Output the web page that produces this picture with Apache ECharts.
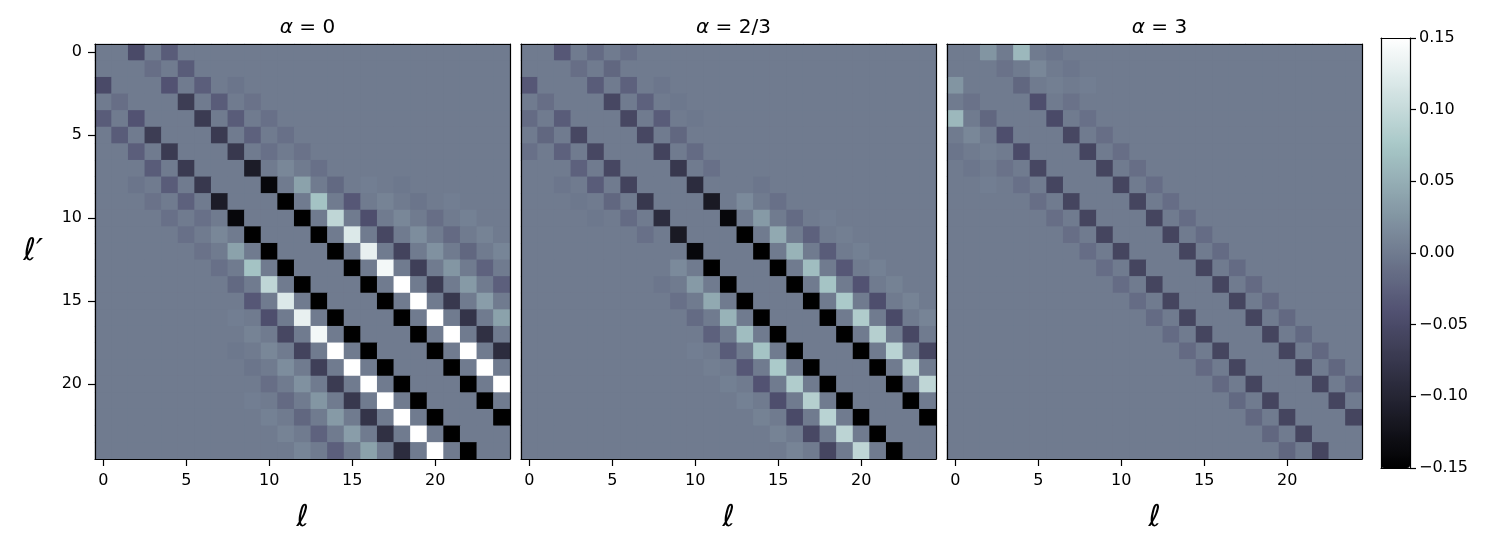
<!DOCTYPE html>
<html>
<head>
<meta charset="utf-8">
<script src="https://cdn.jsdelivr.net/npm/echarts@6/dist/echarts.min.js"></script>
<style>
html,body{margin:0;padding:0;background:#fff;}
#chart{width:1496px;height:549px;}
</style>
</head>
<body>
<div id="chart"></div>
<script>
// ---------------- DATA ----------------
const ells = [0,1,2,3,4,5,6,7,8,9,10,11,12,13,14,15,16,17,18,19,20,21,22,23,24];
const tickLabels = [0,5,10,15,20];
const panelTitles = ['0', '2/3', '3'];
const cbarMin = -0.15, cbarMax = 0.15, cbarStep = 0.05;

// Matrices are symmetric; values given along even off-diagonals
// (index m = min(ℓ, ℓ′), offset d = |ℓ − ℓ′|). Other cells read as 0.
// α = 0
const a0_d2  = [-0.05,-0.012,-0.04,-0.068,-0.07,-0.072,-0.075,-0.112,-0.14,-0.15,-0.15,-0.15,-0.15,-0.15,-0.15,-0.15,-0.15,-0.15,-0.15,-0.15,-0.15,-0.15,-0.15];
const a0_d4  = [-0.03,-0.03,-0.028,-0.03,-0.03,-0.025,-0.01,0.012,0.038,0.07,0.095,0.12,0.13,0.14,0.15,0.15,0.15,0.15,0.15,0.15,0.15];
const a0_d6  = [0,0,-0.006,-0.008,-0.01,-0.01,-0.008,-0.01,-0.018,-0.035,-0.045,-0.055,-0.06,-0.065,-0.07,-0.075,-0.08,-0.085,-0.09];
const a0_d8  = [0,0,0,0,0,0,0,0,0.003,0.008,0.012,0.018,0.022,0.026,0.03,0.034,0.038];
const a0_d10 = [0,0,0,0,0,0,0,0,-0.003,-0.006,-0.012,-0.016,-0.02,-0.024,-0.027];
const a0_d12 = [0,0,0,0,0,0,0,0,0,0.003,0.006,0.008,0.01];
// α = 2/3
const a1_d2  = [-0.035,-0.012,-0.03,-0.055,-0.055,-0.055,-0.06,-0.075,-0.09,-0.115,-0.14,-0.15,-0.15,-0.15,-0.15,-0.15,-0.15,-0.15,-0.15,-0.15,-0.15,-0.15,-0.15];
const a1_d4  = [-0.015,-0.02,-0.025,-0.025,-0.03,-0.02,-0.015,-0.01,0,0.015,0.03,0.045,0.055,0.065,0.072,0.078,0.082,0.086,0.09,0.092,0.095];
const a1_d6  = [-0.01,0,-0.005,-0.003,-0.003,0,0,0,-0.005,-0.01,-0.015,-0.025,-0.03,-0.035,-0.04,-0.045,-0.05,-0.053,-0.056];
const a1_d8  = [0,0,0,0,0,0,0,0,0,0,0.003,0.004,0.005,0.006,0.007,0.008,0.009];
// α = 3
const a2_d2  = [0.025,-0.008,-0.02,-0.045,-0.05,-0.055,-0.057,-0.058,-0.058,-0.058,-0.058,-0.058,-0.058,-0.058,-0.058,-0.058,-0.058,-0.058,-0.058,-0.058,-0.058,-0.058,-0.058];
const a2_d4  = [0.06,0.012,0.004,-0.008,-0.01,-0.012,-0.012,-0.012,-0.013,-0.013,-0.014,-0.014,-0.015,-0.015,-0.016,-0.016,-0.017,-0.018,-0.019,-0.02,-0.02];
const a2_d6  = [-0.006,-0.005,0.003,0,0,0,0,0,0,0,0,0,0,0,0,0,0,0,0];

const panels = [
  {2:a0_d2, 4:a0_d4, 6:a0_d6, 8:a0_d8, 10:a0_d10, 12:a0_d12},
  {2:a1_d2, 4:a1_d4, 6:a1_d6, 8:a1_d8},
  {2:a2_d2, 4:a2_d4, 6:a2_d6}
];

// ---------------- BUILD ----------------
function buildData(diags){
  const n = ells.length;
  const M = ells.map(() => ells.map(() => 0));
  Object.keys(diags).forEach(k => {
    const d = +k, arr = diags[k];
    arr.forEach((v, m) => { M[m][m+d] = v; M[m+d][m] = v; });
  });
  const out = [];
  for (let r = 0; r < n; r++) for (let c = 0; c < n; c++) out.push([c, r, M[r][c]]);
  return out;
}

// matplotlib "bone" colormap
function bone(t){
  const lerp=(a,b,u)=>a+(b-a)*u;
  const r = t<0.746032 ? 0.652778*t/0.746032 : lerp(0.652778,1,(t-0.746032)/(1-0.746032));
  const g = t<0.365079 ? 0.319444*t/0.365079 : (t<0.746032 ? lerp(0.319444,0.777778,(t-0.365079)/(0.746032-0.365079)) : lerp(0.777778,1,(t-0.746032)/(1-0.746032)));
  const b = t<0.365079 ? 0.444444*t/0.365079 : lerp(0.444444,1,(t-0.365079)/(1-0.365079));
  const h=x=>Math.round(x*255).toString(16).padStart(2,'0');
  return '#'+h(r)+h(g)+h(b);
}
const boneStops = [];
for (let i=0;i<=64;i++) boneStops.push(bone(i/64));
const midColor = bone(0.5);

const FONT = 'DejaVu Sans';
const gridLefts = [95, 521, 947];
const GT = 44, GS = 415;
const tickIdx = (idx) => tickLabels.indexOf(ells[idx]) >= 0;

const grids = [], xAxes = [], yAxes = [], series = [], titles = [];
const lineOnly = {show:true, onZero:false, lineStyle:{color:'#000', width:1.2}};
const noTick = {show:false}, noLabel = {show:false}, noSplit = {show:false};

gridLefts.forEach((L, i) => {
  grids.push({left:L, top:GT, width:GS, height:GS, containLabel:false,
    show:true, backgroundColor:midColor, borderWidth:0});
  xAxes.push({
    type:'category', gridIndex:i, data:ells, position:'bottom', z:10,
    axisLine: lineOnly,
    axisTick:{show:true, alignWithLabel:true, interval:tickIdx, length:7, lineStyle:{color:'#000', width:1.2}},
    axisLabel:{show:true, interval:tickIdx, color:'#000', fontFamily:FONT, fontSize:16, margin:14},
    splitLine:noSplit,
    name:'ℓ', nameLocation:'middle', nameGap:44,
    nameTextStyle:{fontFamily:FONT, fontStyle:'italic', fontSize:30, color:'#000'}
  });
  xAxes.push({
    type:'category', gridIndex:i, data:ells, position:'top', z:10,
    axisLine: lineOnly, axisTick:noTick, axisLabel:noLabel, splitLine:noSplit
  });
  yAxes.push({
    type:'category', gridIndex:i, data:ells, inverse:true, position:'left', z:10,
    axisLine: lineOnly,
    axisTick:{show:i===0, alignWithLabel:true, interval:tickIdx, length:7, lineStyle:{color:'#000', width:1.2}},
    axisLabel:{show:i===0, interval:tickIdx, color:'#000', fontFamily:FONT, fontSize:16, margin:13},
    splitLine:noSplit,
    name: i===0 ? 'ℓ′' : '', nameLocation:'middle', nameGap:52, nameRotate:0,
    nameTextStyle:{fontFamily:FONT, fontStyle:'italic', fontSize:31, color:'#000'}
  });
  yAxes.push({
    type:'category', gridIndex:i, data:ells, inverse:true, position:'right', z:10,
    axisLine: lineOnly, axisTick:noTick, axisLabel:noLabel, splitLine:noSplit
  });
  series.push({
    type:'heatmap', xAxisIndex:2*i, yAxisIndex:2*i,
    data: buildData(panels[i]),
    itemStyle:{borderWidth:0},
    emphasis:{disabled:true}, progressive:0, animation:false
  });
  titles.push({
    text:'{a|α} = ' + panelTitles[i],
    left: L + GS/2, top: 13, textAlign:'center',
    textStyle:{fontFamily:FONT, fontSize:20, fontWeight:'normal', color:'#000',
      rich:{a:{fontFamily:FONT, fontStyle:'italic', fontSize:20, color:'#000'}}}
  });
});

// colorbar frame + ticks (grid 3); the gradient itself is the visualMap bar
const CB = {left:1381, top:38, width:29, height:430};
grids.push({left:CB.left, top:CB.top, width:CB.width, height:CB.height});
xAxes.push({type:'value', gridIndex:3, min:0, max:1, position:'bottom', z:10, axisLine:lineOnly, axisTick:noTick, axisLabel:noLabel, splitLine:noSplit});
xAxes.push({type:'value', gridIndex:3, min:0, max:1, position:'top', z:10, axisLine:lineOnly, axisTick:noTick, axisLabel:noLabel, splitLine:noSplit});
yAxes.push({type:'value', gridIndex:3, min:cbarMin, max:cbarMax, interval:cbarStep, position:'right', z:10,
  axisLine:lineOnly,
  axisTick:{show:true, length:6, lineStyle:{color:'#000', width:1.2}},
  axisLabel:{color:'#000', fontFamily:FONT, fontSize:16, margin:9,
    formatter: v => (v < -1e-9 ? '\u2212' : '') + Math.abs(v).toFixed(2)},
  splitLine:noSplit});
yAxes.push({type:'value', gridIndex:3, min:cbarMin, max:cbarMax, interval:cbarStep, position:'left', z:10, axisLine:lineOnly, axisTick:noTick, axisLabel:noLabel, splitLine:noSplit});

const option = {
  backgroundColor:'#fff',
  animation:false,
  title: titles,
  grid: grids,
  xAxis: xAxes,
  yAxis: yAxes,
  visualMap: {
    type:'continuous', min:cbarMin, max:cbarMax, seriesIndex:[0,1,2],
    calculable:false, orient:'vertical', left:CB.left, top:CB.top,
    itemWidth:CB.width, itemHeight:CB.height, padding:0, text:null,
    inRange:{color:boneStops}, hoverLink:false
  },
  series: series
};

const chart = echarts.init(document.getElementById('chart'), null, {renderer:'canvas'});
chart.setOption(option);
</script>
</body>
</html>
